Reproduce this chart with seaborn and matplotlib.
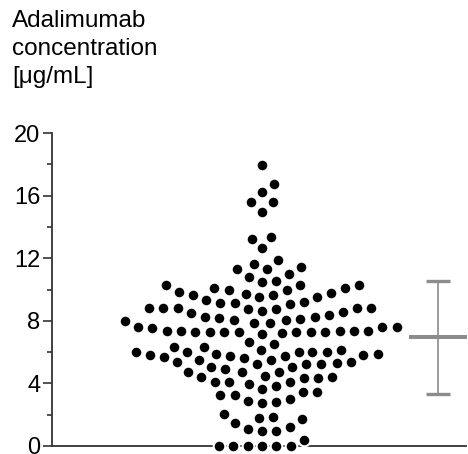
# Adalimumab concentration - dot plot with mean +/- SD

import numpy as np
import pandas as pd
import matplotlib
matplotlib.use("Agg")
import matplotlib.pyplot as plt
import seaborn as sns

# values (ug/mL), grouped roughly by row
conc_low = [0, 0, 0, 0, 0, 0, 0.37,
            0.96, 0.96, 1.07, 1.22, 1.46, 1.71, 1.82, 1.86, 2.03,
            2.74, 2.82, 2.88, 3.03, 3.25, 3.25, 3.46, 3.46, 3.63, 3.85, 3.95]
conc_mid = [4.06, 4.06, 4.06, 4.34, 4.34, 4.38, 4.44, 4.49, 4.74, 4.74, 4.74,
            5.87, 5.87, 5.77, 5.62, 5.51, 5.34, 5.23, 5.28, 5.02, 4.91,
            5.02, 5.23, 5.23, 5.34, 5.51, 5.66, 5.77, 5.83, 5.83,
            6.62, 6.35, 6.13, 6.03, 6.03, 5.98, 6.03, 6.03, 6.13, 6.35, 6.52]
conc_upper = [7.88, 7.63, 7.63, 7.37, 7.37, 7.37, 7.29, 7.29, 7.29, 7.29, 7.29,
              7.16, 7.24, 7.26, 7.26, 7.37, 7.37, 7.54, 7.63, 7.88, 7.97,
              8.83, 8.83, 8.83, 8.74, 8.57, 8.35, 8.25, 8.16, 8.08,
              8.08, 8.12, 8.27, 8.48, 8.63, 8.74, 8.83, 8.83]
conc_high = [9.94, 9.83, 9.74, 9.66, 9.49, 9.23, 9.15, 9.06, 9.15, 9.34, 9.55,
             9.66, 9.76, 9.94,
             10.96, 10.56, 10.26, 10.26, 10.08, 10.08, 10.26, 10.45, 10.83,
             11.65, 11.28, 11.28, 11.46, 11.86,
             12.63, 13.25, 13.33, 14.96, 15.56, 15.56, 16.24, 16.75, 17.95]

y_ticks = [0, 4, 8, 12, 16, 20]
y_minor = [2, 6, 10, 14, 18]
y_title = "Adalimumab\nconcentration\n[\u03bcg/mL]"

conc = conc_low + conc_mid + conc_upper + conc_high
df = pd.DataFrame({'group': 'ADA', 'conc': conc})

sns.set_style("ticks")
plt.rcParams['font.family'] = ['Liberation Sans', 'DejaVu Sans']
plt.rcParams['text.color'] = 'black'
plt.rcParams['ytick.labelcolor'] = 'black'

fig = plt.figure(figsize=(4.68, 4.54), dpi=100)
ax = fig.add_axes([52 / 468, 8 / 454, 414 / 468, 313 / 454])

# white edge keeps the dots spaced out like the original
sns.swarmplot(data=df, x='group', y='conc', color='black', size=8.4,
              linewidth=1.5, edgecolor='white', ax=ax, clip_on=False,
              warn_thresh=1)

# mean +/- SD to the right of the swarm
mean = np.mean(conc)
sd = np.std(conc, ddof=1)
x_sd = 0.44
ax.errorbar(x_sd, mean, yerr=sd, fmt='none', ecolor='#8c8c8c',
            elinewidth=1.2, capsize=8.3, capthick=2.4, clip_on=False)
ax.hlines(mean, x_sd - 0.0725, x_sd + 0.0725, color='#8c8c8c', lw=2.9,
          clip_on=False)

ax.set_xlim(-0.525, 0.51)
ax.set_ylim(0, 20)
ax.set_yticks(y_ticks)
ax.set_yticks(y_minor, minor=True)
ax.set_xticks([])
ax.set_xlabel('')
ax.set_ylabel('')
ax.tick_params(axis='y', which='major', length=6.5, width=1.2, labelsize=17,
               pad=2, color='#333333', labelcolor='black')
ax.tick_params(axis='y', which='minor', length=3.4, width=1.2,
               color='#333333')
sns.despine(ax=ax)
for s in ['left', 'bottom']:
    ax.spines[s].set_linewidth(1.3)
    ax.spines[s].set_color('#333333')

fig.text(12 / 468, 1 - 10 / 454, y_title, ha='left', va='top', fontsize=17.5,
         linespacing=1.36, color='black')

fig.savefig('out.png', dpi=100)
